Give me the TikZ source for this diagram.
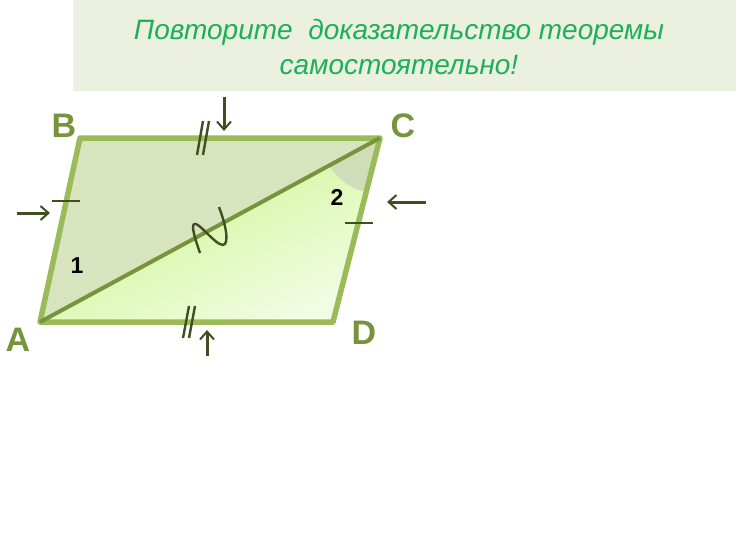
\documentclass[tikz,border=0pt]{standalone}
\usepackage{fontspec}
\setmainfont{Liberation Sans}[BoldFont={Liberation Sans Bold},ItalicFont={Liberation Sans Italic}]
\usetikzlibrary{arrows.meta,calc}
\definecolor{sideColor}{HTML}{9BBB59}
\definecolor{diagColor}{HTML}{77933C}
\definecolor{markColor}{HTML}{3F4F22}
\definecolor{titleColor}{HTML}{1DAF5B}
\definecolor{bandColor}{HTML}{EBF1DE}
\definecolor{upperColor}{HTML}{D7E4BD}
\definecolor{angleColor}{HTML}{CFDDB9}
\definecolor{limeTop}{HTML}{C8F585}
\definecolor{limeBot}{HTML}{F2FCE4}
\newcommand{\vlab}[1]{\fontsize{34}{34}\selectfont\bfseries #1}
\newcommand{\alab}[1]{\fontsize{23}{23}\selectfont\bfseries #1}

\begin{document}
\begin{tikzpicture}[x=1pt,y=-1pt,line join=round,
		side/.style={draw=sideColor,line width=5.5pt},
		diag/.style={draw=diagColor,line width=4pt},
		tick/.style={draw=markColor,line width=2.4pt},
		pointer/.style={draw=markColor,line width=3pt,-{Straight Barb[length=8pt,width=14pt,line width=2pt]}},
		vertex/.style={text=diagColor,inner sep=0},
		angle/.style={text=black,inner sep=0}]
	\useasboundingbox (0,0) rectangle (736,552);
	
	% header
	\fill[bandColor] (73,0) rectangle (736,91);
	\node[text=titleColor,align=center,font=\itshape\fontsize{28}{35}\selectfont] (title) at (399,47)
		{Повторите\ \ доказательство теоремы\\самостоятельно!};
	
	\coordinate (A) at (40,322);
	\coordinate (B) at (80,138);
	\coordinate (C) at (380,138);
	\coordinate (D) at (333,322);
	
	% the two triangles
	\fill[upperColor] (A) -- (B) -- (C) -- cycle;
	\shade[top color=limeTop,bottom color=limeBot,shading angle=25] (A) -- (C) -- (D) -- cycle;
	\fill[angleColor] (C) -- ($(C)!58pt!(A)$) arc[start angle=211.5,end angle=256,radius=58pt] -- cycle;
	
	\draw[side] (A) -- (B) -- (C) -- (D) -- cycle;
	\draw[diag] (A) -- (C);
	
	% equal marks
	\draw[tick] (52,201) -- (80,201);
	\draw[tick] (345,223) -- (373,223);
	\draw[tick] (197,155) -- (203,121);
	\draw[tick] (203,155) -- (209,121);
	\draw[tick] (183,338) -- (189,306);
	\draw[tick] (189,338) -- (195,306);
	\draw[tick] (200,253) .. controls (194,236) and (190,222) .. (196,224)
		.. controls (202,226) and (220,250) .. (225,244)
		.. controls (229,238) and (224,220) .. (219,207);
	
	% pointers
	\coordinate (top0) at (224,97);
	\coordinate (top1) at (224,131);
	\coordinate (left0) at (17,213);
	\coordinate (left1) at (50,213);
	\coordinate (right0) at (426,202);
	\coordinate (right1) at (387,202);
	\coordinate (bot0) at (207,356);
	\coordinate (bot1) at (207,330);
	\draw[pointer] (top0) -- (top1);
	\draw[pointer] (left0) -- (left1);
	\draw[pointer] (right0) -- (right1);
	\draw[pointer] (bot0) -- (bot1);
	
	% labels
	\node[vertex] (labA) at (18,340) {\vlab{A}};
	\node[vertex] (labB) at (64,126) {\vlab{B}};
	\node[vertex] (labC) at (403,126) {\vlab{C}};
	\node[vertex] (labD) at (364,333) {\vlab{D}};
	\node[angle] (ang1) at (77,266) {\alab{1}};
	\node[angle] (ang2) at (337,197) {\alab{2}};
\end{tikzpicture}
\end{document}
